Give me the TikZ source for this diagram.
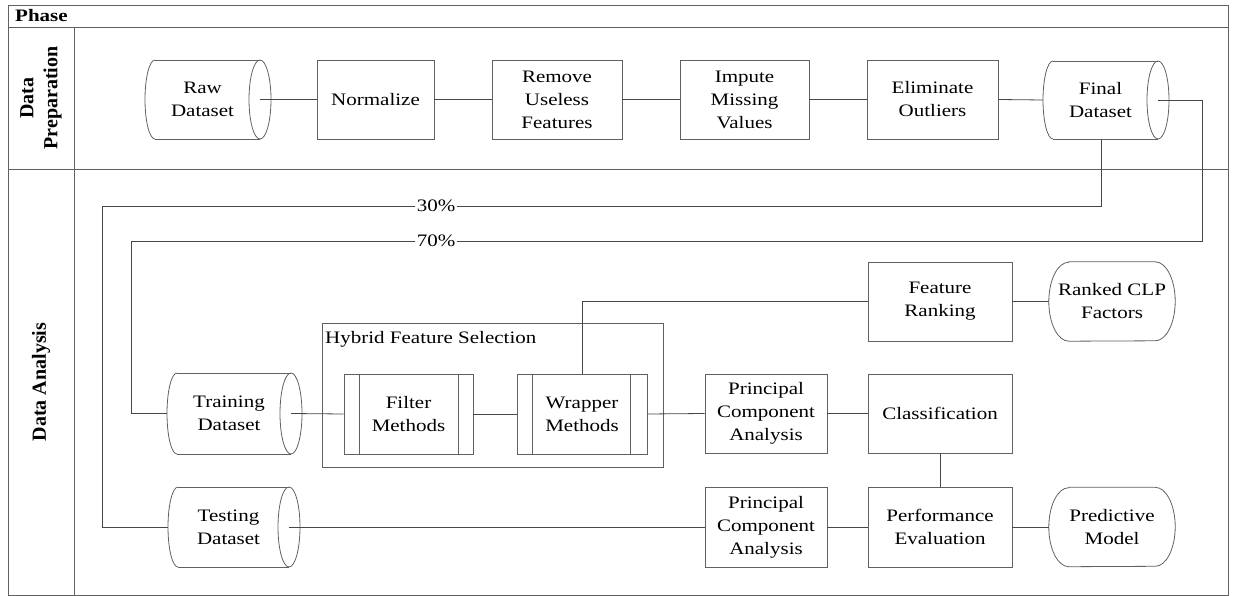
\documentclass[tikz,border=0pt]{standalone}
\usepackage{fontspec}
\newfontfamily\serstretch[FakeStretch=1.2]{Liberation Serif}
\newfontfamily\serplain{Liberation Serif}
\newcommand\txtfont{\serstretch\fontsize{17.5}{23}\selectfont}
\tikzset{
  ln/.style={draw=black!62, line width=0.8pt},
  con/.style={draw=black!72, line width=0.8pt},
  procbox/.style={ln, rectangle, align=center, inner sep=0pt, font=\txtfont},
  txt/.style={align=center, inner sep=0pt, font=\txtfont},
  pct/.style={fill=white, inner sep=1.5pt, font=\txtfont},
  lanelab/.style={rotate=90, align=center, inner sep=0pt, font={\serplain\bfseries\fontsize{20}{24}\selectfont}},
}
% cylinder: name, top-left x, ellipse centre x, top y, bottom y, text
\newcommand\dcyl[6]{%
  \pgfmathsetmacro\cyry{(#5-#4)/2}%
  \pgfmathsetmacro\cymy{(#5+#4)/2}%
  \pgfmathsetmacro\cymx{(#2-10+#3)/2}%
  \node[txt] (#1) at (\cymx,\cymy) {#6};
  \coordinate (#1-e) at (#3,\cymy);
  \coordinate (#1-w) at ({#2-10},\cymy);
  \draw[ln] (#2,#4) -- (#3,#4) (#2,#5) -- (#3,#5);
  \draw[ln] (#1-e) ellipse [x radius=11pt, y radius=\cyry pt];
  \draw[ln] (#2,#4) arc [start angle=90, end angle=270, x radius=10pt, y radius=\cyry pt];
}
% terminator (stadium) around node
\newcommand\term[1]{%
  \draw[ln] ([xshift=20pt]#1.north west) -- ([xshift=-20pt]#1.north east)
    arc [start angle=90, end angle=-90, x radius=20pt, y radius=39.5pt]
    -- ([xshift=20pt]#1.south west)
    arc [start angle=270, end angle=90, x radius=20pt, y radius=39.5pt] -- cycle;
}
\begin{document}
\begin{tikzpicture}[x=1pt, y=-1pt]
\useasboundingbox (0,0) rectangle (1233,596);
% frame / lanes
\draw[ln] (8,5) rectangle (1228,595);
\draw[ln] (8,27) -- (1228,27);
\draw[ln] (8,169) -- (1228,169);
\draw[ln] (74,27) -- (74,595);
\node[anchor=west, inner sep=0pt, font=\txtfont\bfseries] (phase) at (15,16) {Phase};
\node[lanelab] (prep) at (41,98) {Data\\Preparation};
\node[lanelab] (anal) at (41,382) {Data Analysis};

% row 1
\dcyl{raw}{155}{260}{60}{139}{Raw\\Dataset}
\node[procbox, minimum width=117pt, minimum height=79pt] (norm) at (375.5,99.5) {Normalize};
\node[procbox, minimum width=130pt, minimum height=79pt] (remv) at (557,99.5) {Remove\\Useless\\Features};
\node[procbox, minimum width=129pt, minimum height=79pt] (impu) at (744.5,99.5) {Impute\\Missing\\Values};
\node[procbox, minimum width=131pt, minimum height=79pt] (elim) at (932.5,99.5) {Eliminate\\Outliers};
\dcyl{fin}{1053}{1158}{61}{139}{Final\\Dataset}
\coordinate (fin-s) at (1101,139);

\draw[con] (raw-e) -- (norm.west);
\draw[con] (norm.east) -- (remv.west);
\draw[con] (remv.east) -- (impu.west);
\draw[con] (impu.east) -- (elim.west);
\draw[con] (elim.east) -- (fin-w);

% row 2
\dcyl{train}{177}{291}{373}{454}{Training\\Dataset}
\dcyl{test}{178}{289}{487}{567}{Testing\\Dataset}

\node[ln, rectangle, minimum width=341pt, minimum height=144pt, inner sep=0pt] (hyb) at (492.5,395) {};
\node[anchor=west, inner sep=0pt, font=\txtfont] (hyblab) at (325,339) {Hybrid Feature Selection};

\node[procbox, minimum width=129pt, minimum height=80pt] (filt) at (408.5,414) {Filter\\Methods};
\draw[ln] ([xshift=16pt]filt.north west) -- ([xshift=16pt]filt.south west);
\draw[ln] ([xshift=-15pt]filt.north east) -- ([xshift=-15pt]filt.south east);
\node[procbox, minimum width=130pt, minimum height=80pt] (wrap) at (582,414) {Wrapper\\Methods};
\draw[ln] ([xshift=16pt]wrap.north west) -- ([xshift=16pt]wrap.south west);
\draw[ln] ([xshift=-17pt]wrap.north east) -- ([xshift=-17pt]wrap.south east);

\node[procbox, minimum width=122pt, minimum height=79pt] (pca1) at (766,413.5) {Principal\\Component\\Analysis};
\node[procbox, minimum width=122pt, minimum height=80pt] (pca2) at (766,527) {Principal\\Component\\Analysis};
\node[procbox, minimum width=144pt, minimum height=79pt] (frank) at (940,301.5) {Feature\\Ranking};
\node[procbox, minimum width=144pt, minimum height=79pt] (clas) at (940,413.5) {Classification};
\node[procbox, minimum width=144pt, minimum height=80pt] (perf) at (940,527) {Performance\\Evaluation};
\node[txt, minimum width=126pt, minimum height=79pt] (rclp) at (1112,301.5) {Ranked CLP\\Factors};
\term{rclp}
\node[txt, minimum width=126pt, minimum height=79pt] (pmod) at (1112,527) {Predictive\\Model};
\term{pmod}

% split connectors
\coordinate (c70a) at (1202,241);
\coordinate (c70b) at (131,241);
\coordinate (c30b) at (102,206);
\draw[con] (fin-e) -| (c70a) -- (c70b) |- (train-w);
\draw[con] (fin-s) |- (c30b) |- (test-w);
\node[pct] (p30) at (436,206) {30\%};
\node[pct] (p70) at (436,241) {70\%};

\draw[con] (train-e) -- (filt.west);
\draw[con] (filt.east) -- (wrap.west);
\draw[con] (wrap.east) -- (pca1.west);
\draw[con] (pca1.east) -- (clas.west);
\draw[con] (clas.south) -- (perf.north);
\draw[con] (wrap.north) |- (frank.west);
\draw[con] (frank.east) -- (rclp.west);
\draw[con] (test-e) -- (pca2.west);
\draw[con] (pca2.east) -- (perf.west);
\draw[con] (perf.east) -- (pmod.west);
\end{tikzpicture}
\end{document}
